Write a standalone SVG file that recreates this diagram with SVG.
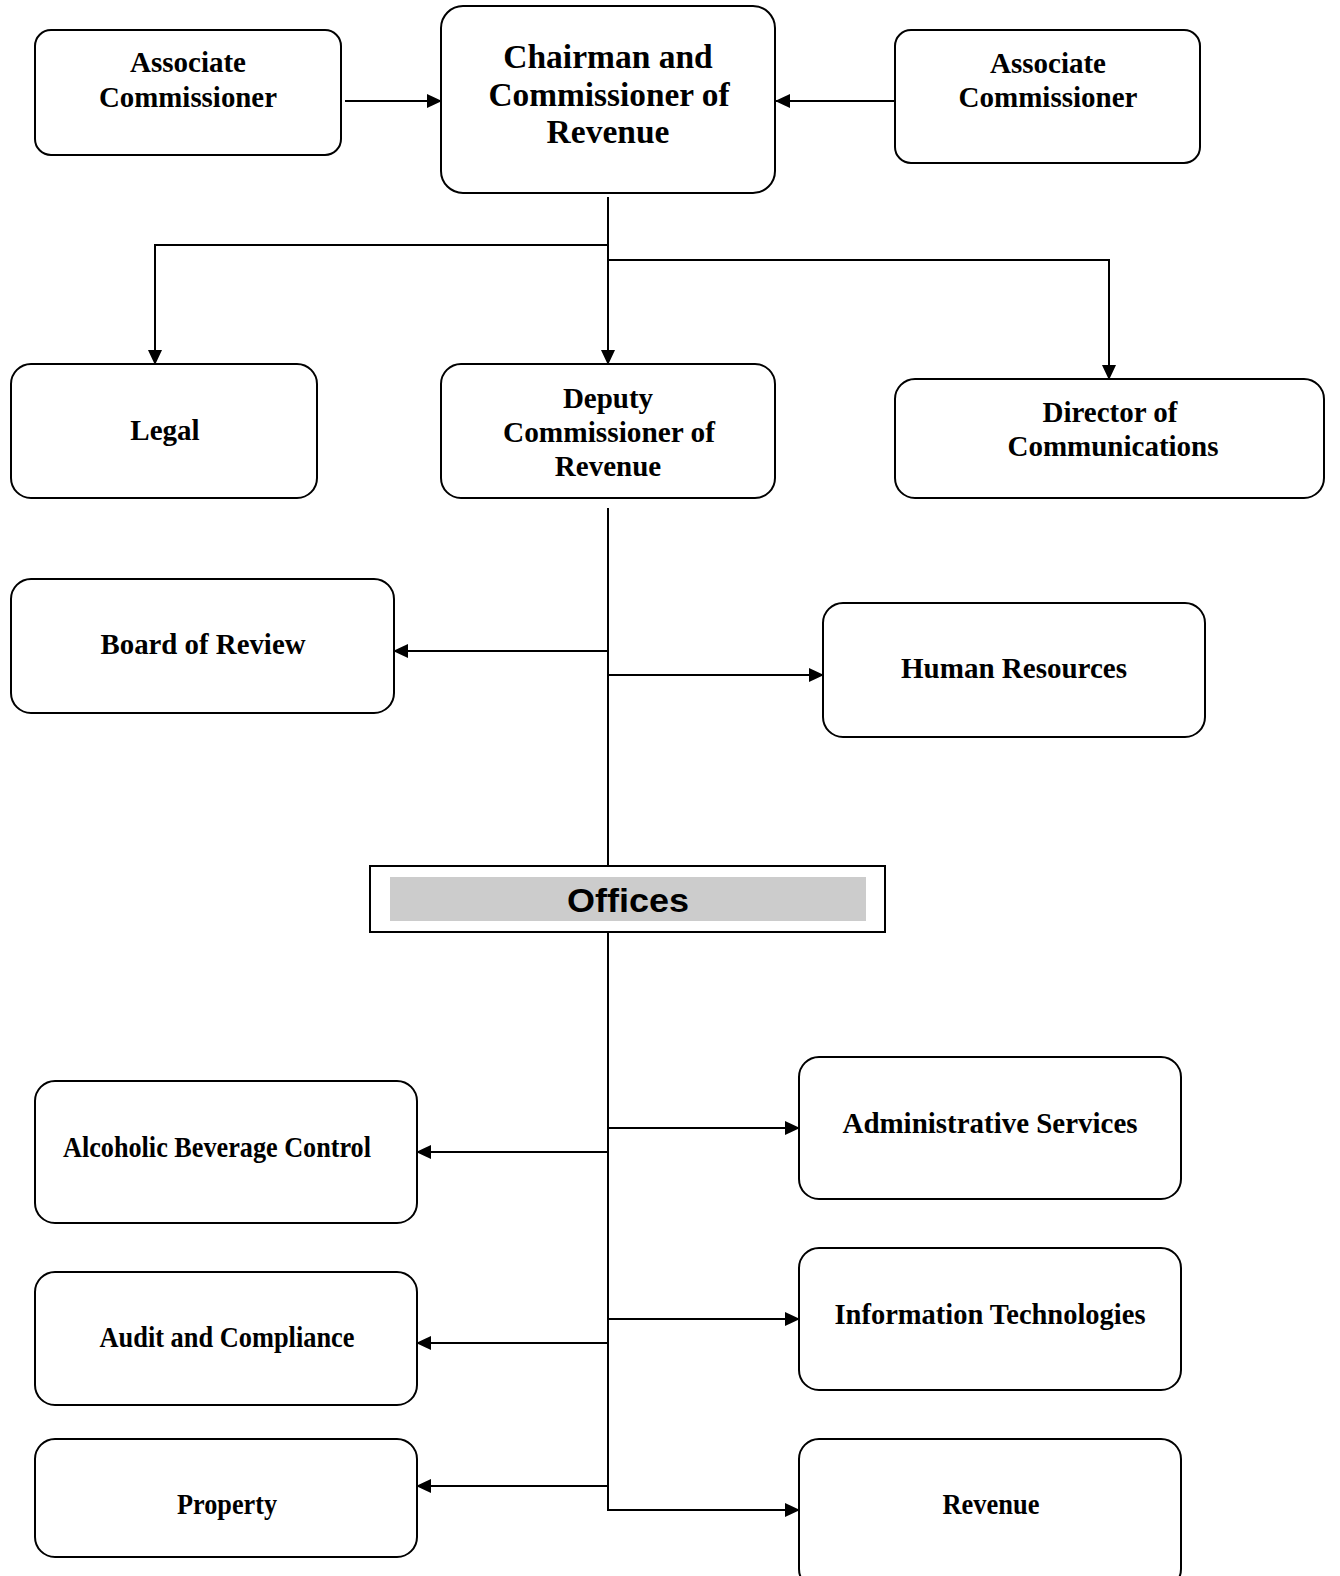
<svg xmlns="http://www.w3.org/2000/svg" width="1340" height="1576" viewBox="0 0 1340 1576">
<defs>
<marker id="ah" markerWidth="15" markerHeight="14" refX="14" refY="7" orient="auto" markerUnits="userSpaceOnUse">
<path d="M0,0 L15,7 L0,14 Z" fill="#000"/>
</marker>
<style>
.box{fill:#fff;stroke:#000;stroke-width:2}
.t{font-family:"Liberation Serif","Times New Roman",serif;font-weight:bold;font-size:29px;text-anchor:middle;fill:#000}
.big{font-size:33.5px}
.c{fill:none;stroke:#000;stroke-width:2}
</style>
</defs>
<rect width="1340" height="1576" fill="#fff"/>
<g id="connectors">
<line class="c" x1="345" y1="101" x2="441" y2="101" marker-end="url(#ah)"/>
<line class="c" x1="895" y1="101" x2="776" y2="101" marker-end="url(#ah)"/>
<line class="c" x1="608" y1="197" x2="608" y2="364" marker-end="url(#ah)"/>
<polyline class="c" points="608,245 155,245 155,364" marker-end="url(#ah)"/>
<polyline class="c" points="608,260 1109,260 1109,379" marker-end="url(#ah)"/>
<line class="c" x1="608" y1="508" x2="608" y2="866"/>
<line class="c" x1="608" y1="651" x2="394" y2="651" marker-end="url(#ah)"/>
<line class="c" x1="608" y1="675" x2="823" y2="675" marker-end="url(#ah)"/>
<polyline class="c" points="608,932 608,1510 799,1510" marker-end="url(#ah)"/>
<line class="c" x1="608" y1="1152" x2="417" y2="1152" marker-end="url(#ah)"/>
<line class="c" x1="608" y1="1128" x2="799" y2="1128" marker-end="url(#ah)"/>
<line class="c" x1="608" y1="1343" x2="417" y2="1343" marker-end="url(#ah)"/>
<line class="c" x1="608" y1="1319" x2="799" y2="1319" marker-end="url(#ah)"/>
<line class="c" x1="608" y1="1486" x2="417" y2="1486" marker-end="url(#ah)"/>
</g>
<g id="assoc-left">
<rect class="box" x="35" y="30" width="306" height="125" rx="16"/>
<text class="t" x="188" y="72">Associate</text>
<text class="t" x="188" y="107" textLength="178" lengthAdjust="spacingAndGlyphs">Commissioner</text>
</g>
<g id="chairman">
<rect class="box" x="441" y="6" width="334" height="187" rx="22"/>
<text class="t big" x="608" y="68">Chairman and</text>
<text class="t big" x="609" y="106" textLength="241" lengthAdjust="spacingAndGlyphs">Commissioner of</text>
<text class="t big" x="608" y="143">Revenue</text>
</g>
<g id="assoc-right">
<rect class="box" x="895" y="30" width="305" height="133" rx="16"/>
<text class="t" x="1048" y="73">Associate</text>
<text class="t" x="1048" y="107" textLength="179" lengthAdjust="spacingAndGlyphs">Commissioner</text>
</g>
<g id="legal">
<rect class="box" x="11" y="364" width="306" height="134" rx="20"/>
<text class="t" x="165" y="440">Legal</text>
</g>
<g id="deputy">
<rect class="box" x="441" y="364" width="334" height="134" rx="20"/>
<text class="t" x="608" y="408">Deputy</text>
<text class="t" x="609" y="442" textLength="212" lengthAdjust="spacingAndGlyphs">Commissioner of</text>
<text class="t" x="608" y="476">Revenue</text>
</g>
<g id="director">
<rect class="box" x="895" y="379" width="429" height="119" rx="20"/>
<text class="t" x="1110" y="422">Director of</text>
<text class="t" x="1113" y="456" textLength="211" lengthAdjust="spacingAndGlyphs">Communications</text>
</g>
<g id="board">
<rect class="box" x="11" y="579" width="383" height="134" rx="20"/>
<text class="t" x="203" y="654" textLength="205" lengthAdjust="spacingAndGlyphs">Board of Review</text>
</g>
<g id="hr">
<rect class="box" x="823" y="603" width="382" height="134" rx="20"/>
<text class="t" x="1014" y="678" textLength="226" lengthAdjust="spacingAndGlyphs">Human Resources</text>
</g>
<g id="offices">
<rect x="370" y="866" width="515" height="66" fill="#fff" stroke="#000" stroke-width="2"/>
<rect x="390" y="877" width="476" height="44" fill="#ccc"/>
<text x="628" y="912" font-family="'Liberation Sans',Arial,sans-serif" font-weight="bold" font-size="33" text-anchor="middle" textLength="122" lengthAdjust="spacingAndGlyphs">Offices</text>
</g>
<g id="abc">
<rect class="box" x="35" y="1081" width="382" height="142" rx="20"/>
<text class="t" x="217" y="1157" textLength="308" lengthAdjust="spacingAndGlyphs">Alcoholic Beverage Control</text>
</g>
<g id="admin">
<rect class="box" x="799" y="1057" width="382" height="142" rx="20"/>
<text class="t" x="990" y="1133" textLength="295" lengthAdjust="spacingAndGlyphs">Administrative Services</text>
</g>
<g id="audit">
<rect class="box" x="35" y="1272" width="382" height="133" rx="20"/>
<text class="t" x="227" y="1347" textLength="255" lengthAdjust="spacingAndGlyphs">Audit and Compliance</text>
</g>
<g id="it">
<rect class="box" x="799" y="1248" width="382" height="142" rx="20"/>
<text class="t" x="990" y="1324" textLength="311" lengthAdjust="spacingAndGlyphs">Information Technologies</text>
</g>
<g id="property">
<rect class="box" x="35" y="1439" width="382" height="118" rx="20"/>
<text class="t" x="227" y="1514" textLength="100" lengthAdjust="spacingAndGlyphs">Property</text>
</g>
<g id="revenue">
<rect class="box" x="799" y="1439" width="382" height="150" rx="20"/>
<text class="t" x="991" y="1514" textLength="97" lengthAdjust="spacingAndGlyphs">Revenue</text>
</g>
</svg>
